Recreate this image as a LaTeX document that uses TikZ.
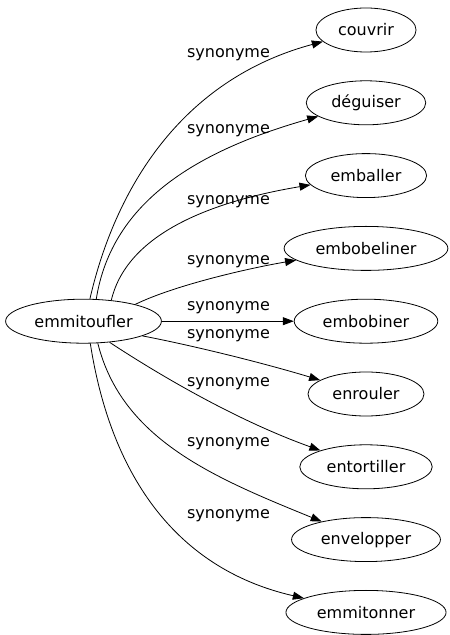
\documentclass[tikz,border=0pt]{standalone}
\usepackage{fontspec}
\setmainfont{DejaVu Sans}
\usetikzlibrary{arrows.meta, positioning, shapes.geometric}

\begin{document}
\begin{tikzpicture}[x=1pt, y=1pt, node distance=28pt, font=\fontsize{16pt}{19pt}\selectfont]

        % Define style
        \tikzstyle{word} = [ellipse, draw, line width=0.8pt, minimum height=44pt, inner xsep=7.5pt]
        \tikzstyle{syn} = [draw, line width=0.8pt, -{Triangle[length=11pt, width=8pt]}]
        \tikzstyle{lbl} = [inner sep=0pt]

        \useasboundingbox (0,0) rectangle (450,635);

        % Synonyms (top to bottom)
        \node[word] (couvrir) at (366,605) {couvrir};
        \node[word, below=of couvrir] (deguiser) {déguiser};
        \node[word, below=of deguiser] (emballer) {emballer};
        \node[word, below=of emballer] (embobeliner) {embobeliner};
        \node[word, below=of embobeliner] (embobiner) {embobiner};
        \node[word, below=of embobiner] (enrouler) {enrouler};
        \node[word, below=of enrouler] (entortiller) {entortiller};
        \node[word, below=of entortiller] (envelopper) {envelopper};
        \node[word, below=of envelopper] (emmitonner) {emmitonner};

        % Source word
        \node[word, inner xsep=6pt, left=132pt of embobiner] (emmitoufler) {emmitoufler};

        % Edges
        \draw[syn] (emmitoufler.74) .. controls (115,445) and (180,555) .. (couvrir);
        \draw[syn] (emmitoufler.60) .. controls (112,435) and (200,485) .. (deguiser);
        \draw[syn] (emmitoufler.37) .. controls (128,405) and (220,435) .. (emballer);
        \draw[syn] (emmitoufler.18) .. controls (175,350) and (250,367) .. (embobeliner);
        \draw[syn] (emmitoufler) -- (embobiner);
        \draw[syn] (emmitoufler.-14) .. controls (190,290) and (260,273) .. (enrouler);
        \draw[syn] (emmitoufler.-39) .. controls (167,255) and (241,213) .. (entortiller);
        \draw[syn] (emmitoufler.-57) .. controls (122,195) and (215,157) .. (envelopper);
        \draw[syn] (emmitoufler.-73) .. controls (110,165) and (172,67) .. (emmitonner);

        % Labels
        \node[lbl] (lab1) at (228.5,580.5) {synonyme};
        \node[lbl] (lab2) at (228.5,504.5) {synonyme};
        \node[lbl] (lab3) at (228.5,433) {synonyme};
        \node[lbl] (lab4) at (228.5,373.5) {synonyme};
        \node[lbl] (lab5) at (228.5,327) {synonyme};
        \node[lbl] (lab6) at (228.5,299.5) {synonyme};
        \node[lbl] (lab7) at (228.5,251.5) {synonyme};
        \node[lbl] (lab8) at (228.5,191.5) {synonyme};
        \node[lbl] (lab9) at (228.5,119) {synonyme};

    \end{tikzpicture}
\end{document}
